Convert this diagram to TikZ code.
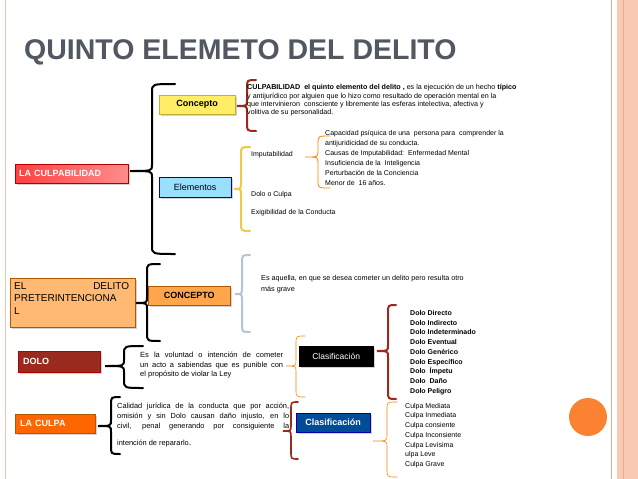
\documentclass[tikz,border=0pt]{standalone}
\usepackage{fontspec}
\setmainfont{Liberation Sans}
\usetikzlibrary{shadows}
\definecolor{titlec}{HTML}{515862}
\definecolor{salmon}{HTML}{F9C9B4}
\definecolor{salline}{HTML}{F3A98A}
\definecolor{circ}{HTML}{FA8232}
\definecolor{bred}{HTML}{9B2A1E}
\definecolor{byel}{HTML}{EFC94C}
\definecolor{bgray}{HTML}{B8C4D6}
\tikzset{
 box/.style={draw=#1!70!black, line width=0.4pt, drop shadow={opacity=0.35,shadow xshift=1.5pt,shadow yshift=-1.5pt}, inner sep=0pt, anchor=north west},
 lbl/.style={font=\fontsize{9}{10}\selectfont\bfseries},
 small/.style={font=\fontsize{7}{8.3}\selectfont, align=left, anchor=north west, inner sep=0pt},
 br/.style={line width=#1, line cap=round}
}
% brace: style, tip x, bar x, end x, top y, tip y, bottom y
\newcommand{\brc}[7]{\draw[#1] (#4,#5) .. controls (#3,#5) .. (#3,#5+8) -- (#3,#6-6) .. controls (#3,#6) .. (#2,#6) .. controls (#3,#6) .. (#3,#6+6) -- (#3,#7-8) .. controls (#3,#7) .. (#4,#7);}
\newcommand{\jl}[2]{\makebox[#1][s]{#2}}
\begin{document}
\begin{tikzpicture}[x=1pt,y=-1pt]
\useasboundingbox (0,0) rectangle (638,479);
\fill[white] (0,0) rectangle (638,479);
% frame
\draw[salline!70, line width=0.6pt] (5,0) -- (5,479);
\fill[salmon] (617,0) rectangle (638,479);
\draw[salline, line width=0.6pt] (611,0) -- (611,479);
\draw[salline, line width=0.8pt] (623,0) -- (623,479);
\fill[circ] (588,417) circle (19);
% title
\node[anchor=west, font=\fontsize{28.5}{30}\selectfont\bfseries, text=titlec, inner sep=0pt] (title) at (24,52) {QUINTO ELEMETO DEL DELITO};

% ---- LA CULPABILIDAD
\node[box=red, left color=red!75, right color=red!45, minimum width=113, minimum height=19, lbl, text=white, text width=105, align=left] (culp) at (15,164) {LA CULPABILIDAD};
\node[box=yellow, fill=yellow!85!orange!60, minimum width=76, minimum height=19, lbl] (conc) at (159,95) {Concepto};
\node[box=blue, fill=blue!30!cyan!40, minimum width=72, minimum height=20, font=\fontsize{9}{10}\selectfont] (elem) at (159,177) {Elementos};
\brc{br=2pt,black}{130}{152}{175}{84}{171}{254}
\brc{br=2pt,bred}{237}{247}{256}{80}{106}{131}
\brc{br=2pt,byel}{234}{241}{250}{147}{189}{231}
\brc{br=0.8pt,orange}{305}{318}{330}{136}{157}{188}
\node[small, font=\fontsize{7.15}{8.3}\selectfont] (ctext) at (247,84.5) {{\bfseries CULPABILIDAD\ \ el quinto elemento del delito ,} es la ejecución de un hecho {\bfseries típico}\\ y antijurídico por alguien que lo hizo como resultado de operación mental en la\\ que intervinieron\ \ consciente y\ libremente las esferas intelectiva, afectiva y\\ volitiva de su personalidad.};
\node[small] (imp) at (251,151) {Imputabilidad};
\node[small] (dc) at (251,191) {Dolo o Culpa};
\node[small] (ex) at (251,209) {Exigibilidad de la Conducta};
\node[small, font=\fontsize{7}{10}\selectfont] (cap) at (325,130) {Capacidad psíquica de una\ \ persona para\ \ comprender la\\ antijuridicidad de su conducta.\\ Causas de Imputabilidad:\ \ Enfermedad Mental\\ Insuficiencia de la\ \ Inteligencia\\ Perturbación de la Conciencia\\ Menor de\ \ 16 años.};

% ---- Preterintencional
\node[box=orange, fill=orange!55, minimum width=125, minimum height=49] (pre) at (10,278) {};
\node[anchor=north west, inner sep=0pt, text width=115, align=justify, font=\fontsize{10}{12.5}\selectfont] (pret) at (14,282) {EL\hfill DELITO\\ PRETERINTENCIONA\\ L};
\node[box=orange, fill=orange!70, minimum width=82, minimum height=19, lbl] (conc2) at (148,286) {CONCEPTO};
\brc{br=2pt,black}{136}{147}{160}{264}{303}{341}
\brc{br=2pt,bgray}{235}{242}{250}{255}{294}{332}
\node[small, font=\fontsize{7.2}{11}\selectfont] (aq) at (261,275) {Es aquella, en que se desea cometer un delito pero resulta otro\\ más grave};

% ---- DOLO
\node[box=red, fill=bred, minimum width=82, minimum height=21, lbl, text=white, text width=72, align=left] (dolo) at (18,351) {DOLO};
\brc{br=2pt,black}{105}{124}{143}{346}{366}{388}
\node[small, font=\fontsize{7.5}{9.6}\selectfont] (vol) at (140,352) {\jl{143pt}{Es la voluntad o intención de cometer}\\ \jl{143pt}{un acto a sabiendas que es punible con}\\ el propósito de violar la Ley};
\brc{br=0.6pt,orange}{286}{296}{305}{336}{366}{397}
\node[box=black, fill=black, minimum width=74, minimum height=20, font=\fontsize{8.5}{10}\selectfont, text=white] (clas1) at (299,346) {Clasificación};
\brc{br=2pt,bred}{377}{388}{396}{305}{351}{399}
\node[small, font=\fontsize{7}{9.75}\selectfont\bfseries] (dlist) at (410,310) {Dolo Directo\\ Dolo Indirecto\\ Dolo Indeterminado\\ Dolo Eventual\\ Dolo Genérico\\ Dolo Específico\\ Dolo\ \ Ímpetu\\ Dolo\ \ Daño\\ Dolo Peligro};

% ---- LA CULPA
\node[box=orange, fill=orange!80!red, minimum width=80, minimum height=19, lbl, text=white, text width=70, align=left] (culpa) at (15,414) {LA CULPA};
\brc{br=2pt,black}{98}{111}{120}{397}{426}{454}
\node[small, font=\fontsize{7.4}{10}\selectfont] (cal) at (117,403) {\jl{172pt}{Calidad jurídica de la conducta que por acción,}\\ \jl{172pt}{omisión y sin Dolo causan daño injusto, en lo}\\ \jl{172pt}{civil, penal generando por consiguiente la}\\[7pt] intención de repararlo{\fontsize{9}{9}\selectfont.}};
\brc{br=1.6pt,bred}{283}{291}{298}{402}{431}{459}
\node[box=blue, fill=blue!50!cyan!60!black, minimum width=74, minimum height=19, lbl, text=white] (clas2) at (296,413) {Clasificación};
\brc{br=0.6pt,orange}{373}{387}{397}{402}{441}{477}
\node[small, font=\fontsize{7}{9.7}\selectfont] (clist) at (405,403) {Culpa Mediata\\ Culpa Inmediata\\ Culpa consiente\\ Culpa Inconsiente\\ Culpa Levísima\\ ulpa Leve\\ Culpa Grave};
\end{tikzpicture}
\end{document}
